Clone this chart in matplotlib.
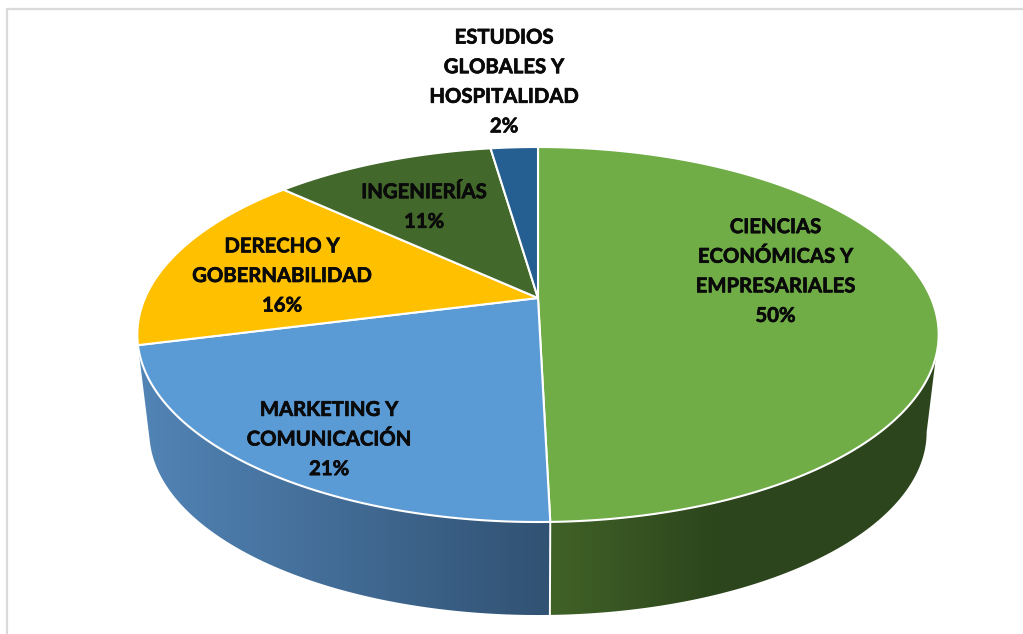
import numpy as np
import matplotlib
matplotlib.use("Agg")
import matplotlib.pyplot as plt
import matplotlib.patheffects as pe
from matplotlib.patches import Polygon

names = ["CIENCIAS\nECONÓMICAS Y\nEMPRESARIALES", "MARKETING Y\nCOMUNICACIÓN", "DERECHO Y\nGOBERNABILIDAD",
         "INGENIERÍAS", "ESTUDIOS\nGLOBALES Y\nHOSPITALIDAD"]
values = [49.6, 21.4, 15.9, 10.8, 2.3]

colors = ["#70AD47", "#5B9BD5", "#FFC000", "#43682B", "#255E91"]
label_pos = [(775.5, 271.5), (329, 439.5), (282, 276), (424, 207), (504, 82)]

# perspective of the pie top (pixels)
cx, cy = 538, 298
sx, sy, k = 393, 180.4, 0.1947


def top_rim(frac):
    t = 2 * np.pi * np.asarray(frac)
    d = 1 + k * np.cos(t)
    return cx + sx * np.sin(t) / d, cy - sy * np.cos(t) / d


def low_rim(frac):
    x, y = top_rim(frac)
    return cx + 0.97 * (x - cx), 432 + 0.976 * (y - 334.5)


fig = plt.figure(figsize=(10.23, 6.34), dpi=100)
ax = fig.add_axes([0, 0, 1, 1])

# chart frame
ax.plot([7, 7, 1023], [634, 9, 9], color="#DADADA", lw=1.6, zorder=0)

edges = np.cumsum([0] + values) / sum(values)

# side wall, gradient by x. Only the front part of the rim shows
widest = np.arccos(-k) / (2 * np.pi)
side_shade = {
    0: ((64, 98, 39), (44, 69, 28), 550, 720),
    1: ((82, 132, 182), (49, 82, 115), 140, 548),
}
xs = np.arange(1023) + 0.5
for i, (c1, c2, x1, x2) in side_shade.items():
    a = np.clip((xs - x1) / (x2 - x1), 0, 1)[:, None]
    grad = (np.array(c1) + (np.array(c2) - np.array(c1)) * a) / 255
    f = np.linspace(max(edges[i], widest), min(edges[i + 1], 1 - widest), 300)
    xu, yu = top_rim(f)
    xl, yl = low_rim(f)
    wall = Polygon(np.c_[np.r_[xu, xl[::-1]], np.r_[yu, yl[::-1]]], transform=ax.transData, fill=False, lw=0)
    ax.add_patch(wall)
    im = ax.imshow(grad[None, :, :], extent=(0, 1023, 634, 0), aspect="auto", zorder=1, interpolation="nearest")
    im.set_clip_path(wall)

ax.set_xlim(0, 1023)
ax.set_ylim(634, 0)
ax.axis("off")

# divider on the wall
xu, yu = top_rim(edges[1])
xl, yl = low_rim(edges[1])
ax.plot([xu, xl], [yu, yl], color="white", lw=1.4, zorder=2)

# top face
for i, v in enumerate(values):
    f = np.linspace(edges[i], edges[i + 1], 200)
    x, y = top_rim(f)
    ax.fill(np.r_[cx, x], np.r_[cy, y], facecolor=colors[i], edgecolor="white", lw=1.5, joinstyle="round", zorder=3)

for name, v, (x, y) in zip(names, values, label_pos):
    ax.text(x, y, f"{name}\n{round(v)}%", ha="center", va="center", fontsize=14.6, fontweight="bold",
            family="Lato", color="#0A0A0A", linespacing=1.6, zorder=4,
            path_effects=[pe.withStroke(linewidth=0.5, foreground="#0A0A0A")])

fig.savefig("out.png", dpi=100)
